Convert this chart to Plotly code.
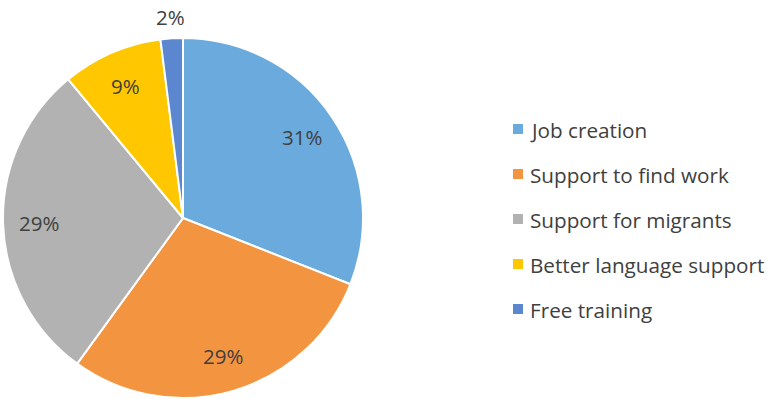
import math
import plotly.graph_objects as go

labels = ["Job creation", "Support to find work", "Support for migrants",
          "Better language support", "Free training"]
values = [31, 29, 29, 9, 2]
colors = ["#6BAADD", "#F39441", "#B2B2B2", "#FFC700", "#5B87D0"]
label_outside = [False, False, False, False, True]

W, H = 767, 399
FONT = "Open Sans"
TXT = "#404040"

# pie placement in pixels
CX, CY, R = 183, 218, 180

fig = go.Figure(go.Pie(
    labels=labels,
    values=values,
    sort=False,
    direction="clockwise",
    rotation=0,
    marker=dict(colors=colors, line=dict(color="white", width=2)),
    textinfo="none",
    showlegend=False,
    hoverinfo="label+percent",
    domain=dict(x=[(CX - R) / W, (CX + R) / W], y=[1 - (CY + R) / H, 1 - (CY - R) / H]),
))

# Percentage labels placed along each slice's mid-angle
total = sum(values)
cum = 0
for v, outside in zip(values, label_outside):
    mid = (cum + v / 2) / total * 2 * math.pi
    cum += v
    rr = R * (1.12 if outside else 0.80)
    px = CX + rr * math.sin(mid)
    py = CY - rr * math.cos(mid)
    fig.add_annotation(xref="paper", yref="paper", x=px / W, y=1 - py / H,
                       text=f"{round(v / total * 100)}%", showarrow=False,
                       xanchor="center", yanchor="middle",
                       font=dict(family=FONT, size=20.5, color=TXT))

# Legend drawn as square markers with labels
leg_y_top = 130
leg_step = 45
for i, (lab, col) in enumerate(zip(labels, colors)):
    yc = leg_y_top + i * leg_step
    fig.add_shape(type="rect", xref="paper", yref="paper",
                  x0=513 / W, x1=523 / W,
                  y0=1 - (yc + 4) / H, y1=1 - (yc - 6) / H,
                  fillcolor=col, line=dict(width=0))
    fig.add_annotation(xref="paper", yref="paper", x=(528 / W), y=1 - yc / H,
                       text=lab, showarrow=False, xanchor="left", yanchor="middle",
                       font=dict(family=FONT, size=20.7, color=TXT))

fig.update_layout(
    width=W, height=H,
    margin=dict(l=0, r=0, t=0, b=0),
    paper_bgcolor="white",
    plot_bgcolor="white",
)

fig.write_html("out.html")
